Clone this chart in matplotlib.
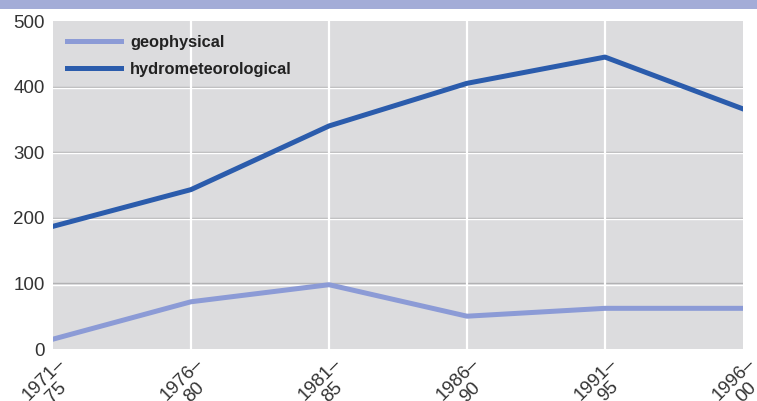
import matplotlib.pyplot as plt
import matplotlib.patches as patches
import matplotlib.transforms as mtransforms

periods = ["1971–\n75", "1976–\n80", "1981–\n85", "1986–\n90", "1991–\n95", "1996–\n00"]
geophysical = [15, 72, 98, 50, 62, 62]
hydrometeorological = [187, 243, 340, 405, 445, 366]
yticks = [0, 100, 200, 300, 400, 500]

plt.rcParams['font.family'] = ['Liberation Sans', 'DejaVu Sans']

fig = plt.figure(figsize=(7.57, 4.01), dpi=100)
ax = fig.add_axes([53 / 757, 52 / 401, 690 / 757, 328 / 401])

# band along the top
fig.patches.append(patches.Rectangle((0, 1 - 9 / 401), 1, 9 / 401, transform=fig.transFigure,
                                     facecolor='#a3acd7', edgecolor='none'))

x = list(range(len(periods)))
ax.set_facecolor('#dcdcde')

# horizontal grid: grey line with a white line just under it
shift = mtransforms.ScaledTranslation(0, -1.2 / 100, fig.dpi_scale_trans)
for v in yticks[1:-1]:
    ax.plot([0, 1], [v, v], color='#b2b2b4', lw=1.0, zorder=1, transform=ax.get_yaxis_transform())
    ax.plot([0, 1], [v, v], color='white', lw=1.0, zorder=1, transform=ax.get_yaxis_transform() + shift)
for v in x[1:-1]:
    ax.axvline(v, color='white', lw=1.6, zorder=1.5)

ax.plot(x, geophysical, color='#8c9bd6', lw=3.6, label='geophysical', zorder=3)
ax.plot(x, hydrometeorological, color='#2b5cac', lw=3.6, label='hydrometeorological', zorder=3)

ax.set_xlim(0, len(periods) - 1)
ax.set_ylim(0, 500)
ax.set_yticks(yticks)
ax.set_xticks(x)
ax.set_xticklabels(periods, rotation=45, ha='right', va='top', rotation_mode='anchor',
                   linespacing=1.1, multialignment='center')
for s in ax.spines.values():
    s.set_visible(False)
ax.tick_params(length=0, labelsize=13.5, colors='#333333')
ax.tick_params(axis='y', pad=6)
ax.tick_params(axis='x', pad=4)
for lab in ax.get_xticklabels():
    lab.set_transform(lab.get_transform() + mtransforms.ScaledTranslation(0.03, 0, fig.dpi_scale_trans))

leg = ax.legend(loc='upper left', frameon=False, prop={'weight': 'bold', 'size': 11.8},
                handlelength=3.3, handletextpad=0.55, labelspacing=0.72,
                borderaxespad=0.0, borderpad=0.85)
for t in leg.get_texts():
    t.set_color('#222222')

fig.savefig('out.png', dpi=100)
